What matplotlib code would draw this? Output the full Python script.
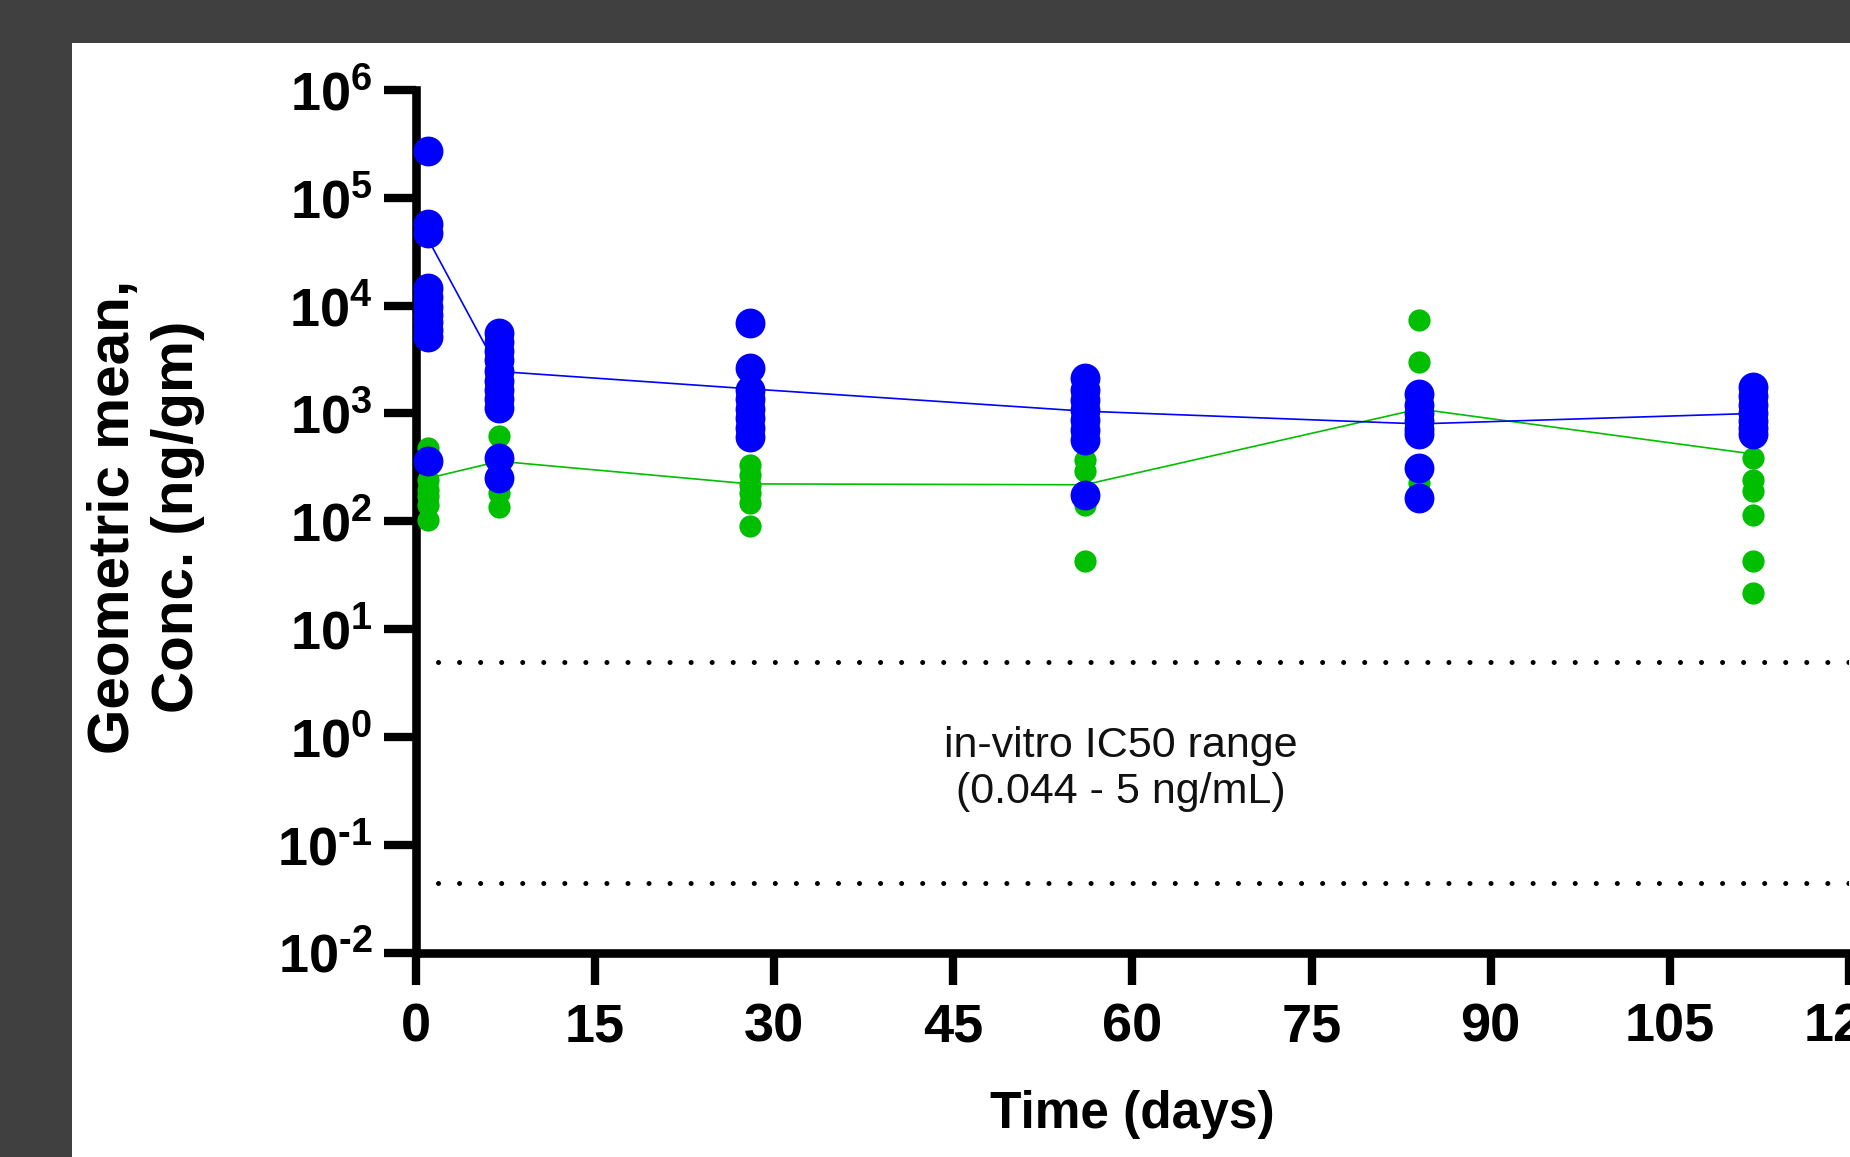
import matplotlib
matplotlib.use("Agg")
import matplotlib.pyplot as plt
from matplotlib.ticker import NullLocator, FixedLocator
from matplotlib.patches import Rectangle
import numpy as np

# ---------------- data ----------------
days = [1, 7, 28, 56, 84, 112]

blue_points = {
    1:   [273000, 57000, 47000, 14500, 12000, 9800, 8200, 7000, 6000, 5100, 360],
    7:   [5600, 4600, 3800, 3100, 2500, 2000, 1650, 1350, 1130, 385, 252],
    28:  [6900, 2640, 1650, 1350, 1100, 900, 740, 610],
    56:  [2130, 1660, 1340, 1080, 875, 706, 570, 176],
    84:  [1500, 1200, 1000, 850, 720, 640, 312, 164],
    112: [1750, 1450, 1200, 1000, 850, 730, 640],
}
green_points = {
    1:   [478, 243, 196, 170, 143, 103],
    7:   [612, 183, 137],
    28:  [335, 270, 218, 183, 148, 90],
    56:  [372, 290, 140, 43],
    84:  [7400, 2970, 226],
    112: [386, 243, 190, 115, 43, 21.6],
}
blue_mean = [42000, 2450, 1690, 1050, 800, 1000]
green_mean = [250, 360, 222, 218, 1100, 420]

ic50_low, ic50_high = 0.044, 5

xticks = [0, 15, 30, 45, 60, 75, 90, 105, 120]
ytick_exp = [-2, -1, 0, 1, 2, 3, 4, 5, 6]

# ---------------- style ----------------
plt.rcParams['font.family'] = ['Liberation Sans', 'DejaVu Sans']
plt.rcParams['mathtext.fontset'] = 'custom'
plt.rcParams['mathtext.rm'] = 'Liberation Sans:bold'
plt.rcParams['mathtext.bf'] = 'Liberation Sans:bold'
plt.rcParams['mathtext.it'] = 'Liberation Sans:bold'

BLUE = '#0000FF'
GREEN = '#00BE00'

W, H = 1850, 1157
fig = plt.figure(figsize=(W / 100, H / 100), dpi=100, facecolor='#404040')
fig.patches.append(Rectangle((72 / W, 0), 1 - 72 / W, 1 - 43 / H,
                             transform=fig.transFigure, facecolor='white',
                             edgecolor='none', zorder=-10))

left, right = 415.7 / W, 1849 / W
bottom, top = 1 - 952.5 / H, 1 - 90 / H
ax = fig.add_axes([left, bottom, right - left, top - bottom])
ax.set_facecolor('none')
ax.set_zorder(1)

ax.set_yscale('log')
ax.set_xlim(0, 120)
ax.set_ylim(1e-2, 1e6)

# mean lines
ax.plot(days, green_mean, color=GREEN, lw=1.2, zorder=2, clip_on=False)
ax.plot(days, blue_mean, color=BLUE, lw=1.2, zorder=2, clip_on=False)

# individual points
for d in days:
    g = green_points[d]
    ax.plot([d] * len(g), g, 'o', color=GREEN, ms=16, mec='none',
            zorder=3, clip_on=False)
for d in days:
    b = blue_points[d]
    ax.plot([d] * len(b), b, 'o', color=BLUE, ms=21.5, mec='none',
            zorder=4, clip_on=False)

# IC50 dotted lines
for v in (ic50_high, ic50_low):
    ax.plot([1.9, 120], [v, v], color='black', lw=3.6,
            linestyle=(0, (0.01, 4.2)), dash_capstyle='round', zorder=2)

ax.text(59, 0.5, 'in-vitro IC50 range\n(0.044 - 5 ng/mL)',
        ha='center', va='center', fontsize=31, color='#111111',
        multialignment='center', linespacing=1.2)

# spines
for s in ('top', 'right'):
    ax.spines[s].set_visible(False)
for s in ('left', 'bottom'):
    ax.spines[s].set_linewidth(6.2)
    ax.spines[s].set_color('black')

ax.xaxis.set_major_locator(FixedLocator(xticks))
ax.set_xticklabels([str(t) for t in xticks])
ax.yaxis.set_major_locator(FixedLocator([10.0 ** e for e in ytick_exp]))
ax.yaxis.set_minor_locator(NullLocator())
ax.set_yticklabels([r'$\mathbf{10^{%s}}$' % str(e).replace('-', '\u2010')
                    for e in ytick_exp])

ax.tick_params(axis='both', which='major', direction='out', length=23,
               width=6, color='black')
ax.tick_params(axis='x', pad=13, labelsize=39)
ax.tick_params(axis='y', pad=8, labelsize=39)
for lab in ax.get_xticklabels():
    lab.set_fontweight('bold')

ax.set_xlabel('Time (days)', fontsize=37, fontweight='bold', va='baseline')
ax.xaxis.set_label_coords(0.5, -0.2038)
ax.set_ylabel('Geometric mean,\nConc. (ng/gm)', fontsize=42,
              fontweight='bold', ha='center', va='center', linespacing=1.25)
ax.yaxis.set_label_coords(-0.1883, 0.505)

fig.savefig('out.png', dpi=100, facecolor=fig.get_facecolor())
